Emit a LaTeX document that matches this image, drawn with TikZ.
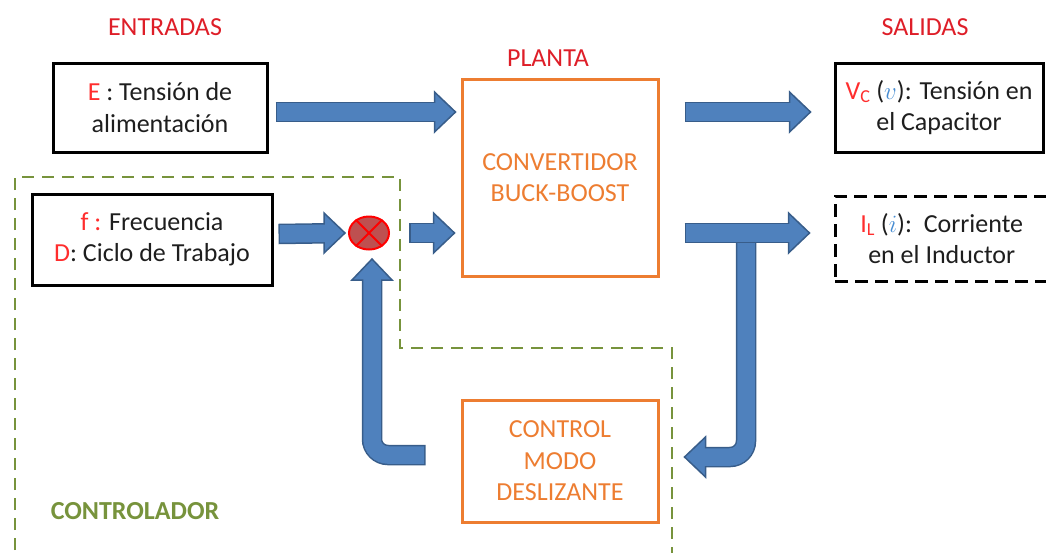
\documentclass[tikz,border=0pt]{standalone}
\usepackage{fontspec}
\setmainfont{Carlito}
\usetikzlibrary{shapes.geometric,calc}

\definecolor{txt}{RGB}{30,30,30}
\definecolor{hdr}{RGB}{222,30,40}
\definecolor{sym}{RGB}{255,45,45}
\definecolor{org}{RGB}{237,125,49}
\definecolor{grn}{RGB}{119,147,60}
\definecolor{afill}{RGB}{79,129,189}
\definecolor{aline}{RGB}{56,93,138}
\definecolor{var}{RGB}{70,140,210}
\definecolor{sumfill}{RGB}{190,80,80}

\tikzset{
  lbl/.style={font=\fontsize{26}{31.5}\selectfont, text=txt, align=center, inner sep=0pt},
  box/.style={lbl, draw=black, line width=3pt},
  dbox/.style={lbl, draw=black, line width=3pt, dash pattern=on 13pt off 7pt},
  obox/.style={lbl, draw=org, line width=3pt, text=org},
  hdrtext/.style={font=\fontsize{26}{30}\selectfont, text=hdr, inner sep=0pt},
  grntext/.style={font=\fontsize{26}{30}\selectfont\bfseries, text=grn, inner sep=0pt},
  ctrlzone/.style={draw=grn, line width=2.8pt, dash pattern=on 12pt off 8pt},
  sumnode/.style={ellipse, draw=red, line width=2pt, fill=sumfill,
    minimum width=40pt, minimum height=33pt, inner sep=0pt},
  shaftout/.style={draw=aline, line width=20.5pt, rounded corners=16pt},
  shaftin/.style={draw=afill, line width=17.5pt, rounded corners=16pt},
  arrowhead/.style={fill=afill, draw=aline, line width=1.5pt, line join=miter}
}

% block arrow: #1 shaft path ending at the tip, #2 tip, #3 direction angle
\newcommand\fatarrow[3]{%
  \draw[shaftout, shorten >=21pt] #1;
  \filldraw[arrowhead, shift={#2}, rotate=#3] (0,0) -- (-21,20) -- (-21,-20) -- cycle;
  \draw[shaftin, shorten >=19pt, shorten <=1.5pt] #1;}

\begin{document}
\begin{tikzpicture}[x=1pt,y=-1pt]
\useasboundingbox (0,0) rectangle (1046,552);
\clip (0,0) rectangle (1046,552);

% headings
\node[hdrtext] (ent) at (165,27) {ENTRADAS};
\node[hdrtext] (sal) at (925,27) {SALIDAS};
\node[hdrtext] (pla) at (548,58) {PLANTA};

% controller zone
\draw[ctrlzone] (15,570) -- (15,177) -- (400,177) -- (400,348) -- (672,348) -- (672,570);
\node[grntext] (ctl) at (135,511) {CONTROLADOR};

% inputs
\node[box, minimum width=214pt, minimum height=89pt] (E) at (160,107.5)
  {{\color{sym}E} : Tensión de\\alimentación};
\node[box, minimum width=240pt, minimum height=91pt] (FD) at (152,239.5)
  {{\color{sym}f :} Frecuencia\\{\color{sym}D}: Ciclo de Trabajo};

% plant and sliding-mode controller
\node[obox, minimum width=196pt, minimum height=197pt] (P) at (560,177.5)
  {CONVERTIDOR\\BUCK-BOOST};
\node[obox, minimum width=196pt, minimum height=122pt] (C) at (560,461)
  {CONTROL\\MODO\\DESLIZANTE};

% outputs
\node[box, minimum width=208pt, minimum height=89pt] (VC) at (939,107.5)
  {{\color{sym}V\textsubscript{C}} ({\color{var}$v$}): Tensión en\\el Capacitor};
\node[dbox, minimum width=213.5pt, minimum height=85pt] (IL) at (941.75,238.5)
  {{\color{sym}I\textsubscript{L}} ({\color{var}$i$}):\ \ Corriente\\en el Inductor};

% summing junction
\node[sumnode] (S) at (369,233) {};
\draw[red, line width=1.8pt] (S.45) -- (S.225) (S.135) -- (S.315);

% arrow end points
\coordinate (a1s) at ($(E.east)+(7,4.5)$);
\coordinate (a1t) at ($(P.west |- a1s)+(-5,0)$);
\coordinate (a2s) at ($(FD.east)+(5,-5.5)$);
\coordinate (a2t) at ($(S.west)+(-3,0)$);
\coordinate (a3s) at ($(S.east)+(19,0)$);
\coordinate (a3t) at ($(P.west |- S)+(-6,0)$);
\coordinate (a4s) at ($(P.east |- a1s)+(25,0)$);
\coordinate (a4t) at ($(VC.west |- a1s)+(-23,0)$);
\coordinate (a5s) at ($(P.east |- S)+(25,0)$);
\coordinate (a5t) at ($(IL.west |- S)+(-24,0)$);
\coordinate (bd) at (746,238);
\coordinate (bt) at ($(C.east)+(25,-4)$);
\coordinate (fs) at ($(C.west)+(-35,-6)$);
\coordinate (ft) at ($(S.south)+(3,8.5)$);

% signal arrows
\fatarrow{(a1s) -- (a1t)}{(a1t)}{0}
\fatarrow{(a2s) -- (a2t)}{(a2t)}{0}
\fatarrow{(a3s) -- (a3t)}{(a3t)}{0}
\fatarrow{(a4s) -- (a4t)}{(a4t)}{0}
\fatarrow{(bd) -- (bd |- bt) -- (bt)}{(bt)}{180}
\fatarrow{(a5s) -- (a5t)}{(a5t)}{0}
\fatarrow{(fs) -- (fs -| ft) -- (ft)}{(ft)}{90}
\end{tikzpicture}
\end{document}
